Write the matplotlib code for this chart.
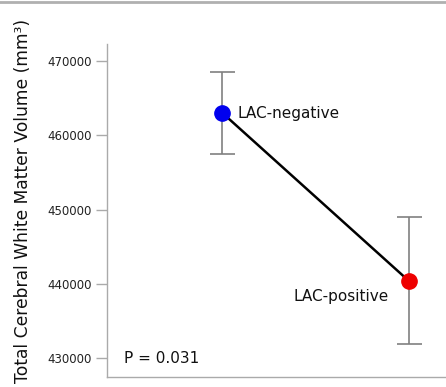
import matplotlib.pyplot as plt
from matplotlib.lines import Line2D

# Values
groups = ['LAC-negative', 'LAC-positive']
means = [463000, 440400]
err_low = [457500, 431900]
err_high = [468500, 449000]
point_colors = ['#0000ee', '#ee0000']
yticks = [430000, 440000, 450000, 460000, 470000]
p_text = 'P = 0.031'

plt.rcParams['font.family'] = ['DejaVu Sans']

fig = plt.figure(figsize=(4.46, 3.87), dpi=100)
ax = fig.add_axes([107 / 446, 10 / 387, 339 / 446, 333 / 387])

x = list(range(len(groups)))
yerr = [[m - lo for m, lo in zip(means, err_low)],
        [hi - m for m, hi in zip(means, err_high)]]

ax.errorbar(x, means, yerr=yerr, fmt='none', ecolor='#808080',
            elinewidth=1.2, capsize=9, capthick=1.2, zorder=1)
ax.plot(x, means, color='black', linewidth=1.8, zorder=2)
for xi, m, c in zip(x, means, point_colors):
    ax.plot(xi, m, 'o', color=c, markersize=11, markeredgecolor=c, zorder=3)

ax.text(x[0] + 0.08, means[0], groups[0], fontsize=11, va='center', ha='left', color='#111111')
ax.text(x[1] - 0.11, means[1] - 2100, groups[1], fontsize=11, va='center', ha='right', color='#111111')
ax.text(-0.53, 430000, p_text, fontsize=11, va='center', ha='left', color='#111111')

ax.set_xlim(-0.62, 1.2)
ax.set_ylim(427450, 472300)
ax.set_yticks(yticks)
ax.set_yticklabels([str(t) for t in yticks], fontsize=8.5, color='#222222')
ax.set_xticks([])
ax.tick_params(axis='y', length=8, color='#aaaaaa', width=1, pad=3)

for s in ['top', 'right']:
    ax.spines[s].set_visible(False)
for s in ['left', 'bottom']:
    ax.spines[s].set_color('#aaaaaa')
    ax.spines[s].set_linewidth(1)

ax.set_ylabel('Total Cerebral White Matter Volume (mm³)', fontsize=12.3,
              color='#111111')
ax.yaxis.set_label_coords(-0.222, 0.53)

fig.add_artist(Line2D([0, 1], [1 - 2 / 387, 1 - 2 / 387], color='#b0b0b0',
                      linewidth=2, transform=fig.transFigure))

fig.savefig('out.png', dpi=100)
